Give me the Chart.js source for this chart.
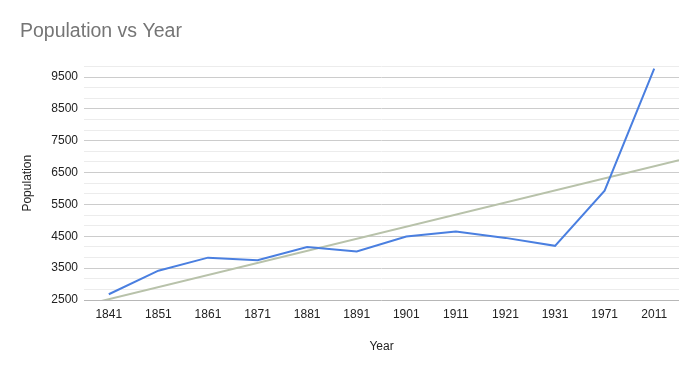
<!DOCTYPE html>
<html>
<head>
<meta charset="utf-8">
<script src="https://cdn.jsdelivr.net/npm/chart.js@4"></script>
<style>
  html, body { margin: 0; padding: 0; background: #fff; }
  #wrap { width: 697px; height: 371px; }
</style>
</head>
<body>
<div id="wrap"><canvas id="popChart"></canvas></div>
<script>
// data
const years = ['1841', '1851', '1861', '1871', '1881', '1891', '1901', '1911', '1921', '1931', '1971', '2011'];
const population = [2680, 3420, 3830, 3750, 4160, 4020, 4490, 4650, 4450, 4200, 5930, 9760];
const yLabels = [2500, 3500, 4500, 5500, 6500, 7500, 8500, 9500];

const yMin = 2500;
const yMax = 9833.33;

// linear trendline over the category index, like the sheet's trendline
function trend(values) {
    const n = values.length;
    const mx = (n - 1) / 2;
    const my = values.reduce((a, b) => a + b, 0) / n;
    let sxy = 0, sxx = 0;
    values.forEach((v, i) => { sxy += (i - mx) * (v - my); sxx += (i - mx) * (i - mx); });
    const slope = sxy / sxx;
    const lo = -0.5, hi = n - 0.5;
    return [
        { x: lo, y: my + slope * (lo - mx) },
        { x: hi, y: my + slope * (hi - mx) }
    ];
}

const font = 'Liberation Sans, Arial, sans-serif';

document.addEventListener('DOMContentLoaded', function() {
    const ctx = document.getElementById('popChart').getContext('2d');
    new Chart(ctx, {
        type: 'line',
        data: {
            labels: years,
            datasets: [{
                label: 'Population',
                data: population,
                borderColor: '#4a7fe0',
                borderWidth: 2,
                pointRadius: 0,
                tension: 0,
                fill: false,
                xAxisID: 'x',
                yAxisID: 'y'
            }, {
                label: 'Trendline',
                data: trend(population),
                borderColor: '#b8c2aa',
                borderWidth: 2,
                pointRadius: 0,
                tension: 0,
                fill: false,
                xAxisID: 'xt',
                yAxisID: 'y'
            }]
        },
        options: {
            responsive: true,
            maintainAspectRatio: false,
            animation: false,
            layout: {
                padding: { top: 0, bottom: 0, left: 20, right: 18 }
            },
            plugins: {
                legend: { display: false },
                tooltip: { enabled: false },
                title: {
                    display: true,
                    text: 'Population vs Year',
                    align: 'start',
                    color: '#757575',
                    font: { family: font, size: 19.5, weight: 'normal' },
                    padding: { top: 20, bottom: 23 }
                }
            },
            scales: {
                x: {
                    type: 'category',
                    offset: true,
                    grid: { display: false, drawTicks: false },
                    border: { display: false },
                    ticks: {
                        color: '#222',
                        font: { family: font, size: 12 },
                        padding: 7,
                        maxRotation: 0,
                        autoSkip: false
                    },
                    title: {
                        display: true,
                        text: 'Year',
                        color: '#222',
                        font: { family: font, size: 12 },
                        padding: { top: 0, bottom: 17 }
                    },
                    afterFit: function(scale) { scale.height = 71; }
                },
                xt: {
                    type: 'linear',
                    display: false,
                    min: -0.5,
                    max: years.length - 0.5
                },
                y: {
                    min: yMin,
                    max: yMax,
                    afterBuildTicks: function(scale) {
                        const t = [];
                        for (let i = 0; i <= 22; i++) t.push({ value: yMin + i * 1000 / 3 });
                        scale.ticks = t;
                    },
                    grid: {
                        drawTicks: false,
                        color: function(c) {
                            const v = c.tick.value;
                            if (Math.abs(v - yMin) < 1) return '#b7b7b7';
                            return yLabels.some(l => Math.abs(l - v) < 1) ? '#cccccc' : '#ececec';
                        }
                    },
                    border: { display: false },
                    ticks: {
                        color: '#222',
                        font: { family: font, size: 12 },
                        padding: 6,
                        autoSkip: false,
                        callback: function(v) {
                            const hit = yLabels.find(l => Math.abs(l - v) < 1);
                            return hit !== undefined ? String(hit) : '';
                        }
                    },
                    title: {
                        display: true,
                        text: 'Population',
                        color: '#222',
                        font: { family: font, size: 12 },
                        padding: { top: 0, bottom: 0 }
                    },
                    afterFit: function(scale) { scale.width = 64; }
                }
            }
        }
    });
});
</script>
</body>
</html>
